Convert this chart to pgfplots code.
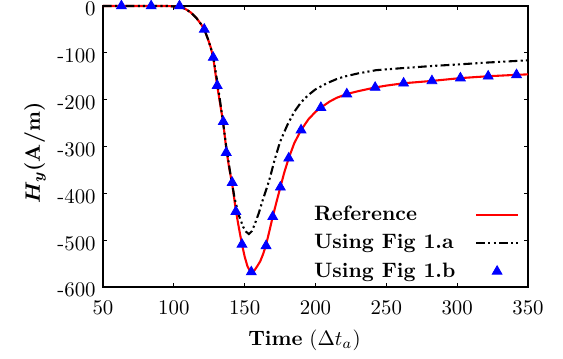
\documentclass[border=0pt]{standalone}
\usepackage{pgfplots}
\pgfplotsset{compat=1.18}
\pgfplotsset{
  longline/.style={legend image code/.code={\draw[##1] (0pt,0pt) -- (20pt,0pt);}},
  onemark/.style={legend image code/.code={\draw[##1] plot coordinates {(10pt,0pt)};}},
}
\begin{document}
\begin{tikzpicture}
\useasboundingbox (-49.44pt,-34.08pt) rectangle (220.8pt,137.76pt);
\begin{axis}[
  scale only axis,
  width=204pt, height=134.9pt,
  xmin=50, xmax=350, ymin=-600, ymax=0,
  xtick={50,100,150,200,250,300,350},
  ytick={-600,-500,-400,-300,-200,-100,0},
  yticklabels={-600,-500,-400,-300,-200,-100,0},
  yticklabel style={yshift=-1.5pt},
  xticklabel style={yshift=-3pt},
  tick align=inside, tick pos=both,
  major tick length=2pt,
  axis line style={line width=1.3pt},
  tick style={line width=0.6pt, black},
  clip=false,
  xlabel={\textbf{Time} ($\Delta t_a$)},
  ylabel={{\boldmath$H_y$}\textbf{(A/m)}},
  x label style={at={(axis description cs:0.474,-0.19)}, anchor=center},
  y label style={at={(axis description cs:-0.16,0.477)}, anchor=center, rotate=0},
  legend plot pos=right,
  legend cell align=left,
  legend style={at={(axis description cs:0.471,0.32)}, anchor=north west, draw=none, fill=none, font=\bfseries, row sep=1.2pt, /tikz/column sep=7.5pt},
]
\addplot[red, line width=1pt, longline] coordinates {
(50,0) (95,0) (100,-1) (104,-2) (108,-6) (112,-14) (116,-26) (119,-38) (121.5,-50) (124,-70) (126,-88) (127.8,-110) (130.6,-170) (133,-215) (134.9,-250) (137,-305) (139,-345) (141.2,-380) (143.8,-437) (146,-475) (148.1,-509) (150,-535) (152,-556) (154,-567) (155.5,-568) (157,-564) (159,-555) (161,-545) (163,-530) (165.1,-510) (167.5,-480) (169.8,-450) (172.5,-418) (175.2,-387) (178,-355) (181.1,-325) (185,-293) (189.8,-265) (195,-242) (200,-226) (203.8,-217) (210,-204) (215,-196) (222.1,-188) (230,-182) (242.1,-174) (250,-170) (262.2,-165) (282.2,-160) (302.3,-154) (321.9,-150) (341.9,-147) (350,-146)
};
\addlegendentry{Reference}
\addplot[black, line width=1pt, dash pattern=on 4.2pt off 1.6pt on 1pt off 1.5pt on 1pt off 1.6pt, longline] coordinates {
(50,0) (95,0) (100,-1) (104,-2) (108,-6) (112,-14) (116,-26) (119,-38) (121.5,-50) (124,-70) (126,-88) (128,-112) (131,-168) (134,-232) (137,-300) (140,-360) (143,-412) (146,-448) (149,-472) (151,-482) (153,-487) (155,-481) (157,-467) (160,-442) (163,-412) (166,-385) (168,-365) (171,-330) (175,-290) (180,-255) (185,-226) (190,-205) (195,-190) (200,-178) (208,-165) (215,-156) (220,-151) (230,-144) (243,-137) (260,-133) (283,-128) (300,-125) (320,-121) (350,-116)
};
\addlegendentry{Using Fig 1.a}
\addplot[only marks, mark=triangle*, mark size=2.7pt, blue, onemark] coordinates {
(63,0) (84,0) (104,0) (121.5,-50) (127.8,-110) (130.6,-170) (134.9,-247) (137,-313) (141.2,-377) (143.8,-439) (148.1,-509) (154.7,-568) (165.1,-512) (169.8,-450) (175.2,-387) (181.1,-325) (189.8,-265) (203.8,-217) (222.1,-188) (242.1,-174) (262.2,-165) (282.2,-160) (302.3,-154) (321.9,-150) (341.9,-147)
};
\addlegendentry{Using Fig 1.b}
\end{axis}
\end{tikzpicture}
\end{document}
